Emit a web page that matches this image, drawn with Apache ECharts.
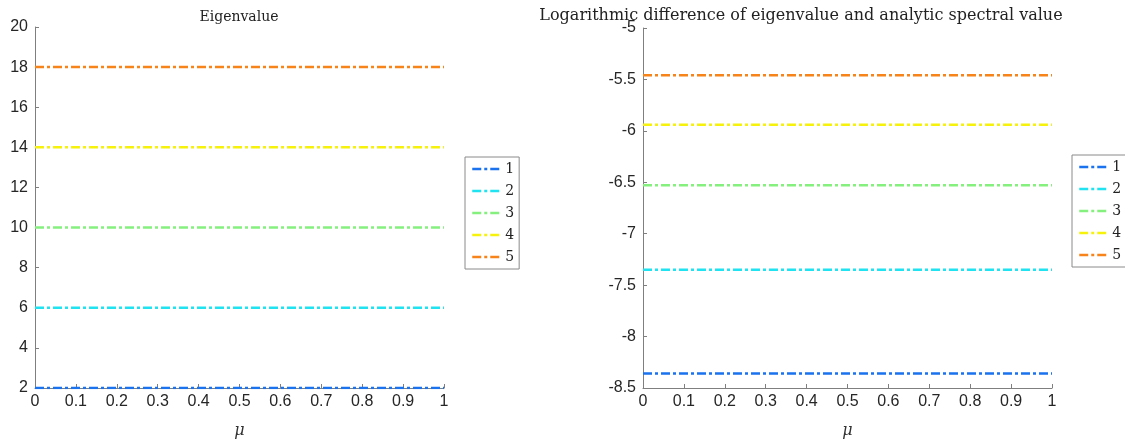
<!DOCTYPE html>
<html>
<head>
<meta charset="utf-8">
<script src="https://cdn.jsdelivr.net/npm/echarts@6/dist/echarts.min.js"></script>
<style>
    html, body { margin: 0; padding: 0; background: #fff; }
    #chart { width: 1125px; height: 444px; }
</style>
</head>
<body>
<div id="chart"></div>
<script>
// mu samples along the x axis
const mu = [0, 0.1, 0.2, 0.3, 0.4, 0.5, 0.6, 0.7, 0.8, 0.9, 1];

// left panel: eigenvalues
const eig1 = [2, 2, 2, 2, 2, 2, 2, 2, 2, 2, 2];
const eig2 = [6, 6, 6, 6, 6, 6, 6, 6, 6, 6, 6];
const eig3 = [10, 10, 10, 10, 10, 10, 10, 10, 10, 10, 10];
const eig4 = [14, 14, 14, 14, 14, 14, 14, 14, 14, 14, 14];
const eig5 = [18, 18, 18, 18, 18, 18, 18, 18, 18, 18, 18];

// right panel: log difference
const diff1 = [-8.36, -8.36, -8.36, -8.36, -8.36, -8.36, -8.36, -8.36, -8.36, -8.36, -8.36];
const diff2 = [-7.35, -7.35, -7.35, -7.35, -7.35, -7.35, -7.35, -7.35, -7.35, -7.35, -7.35];
const diff3 = [-6.53, -6.53, -6.53, -6.53, -6.53, -6.53, -6.53, -6.53, -6.53, -6.53, -6.53];
const diff4 = [-5.94, -5.94, -5.94, -5.94, -5.94, -5.94, -5.94, -5.94, -5.94, -5.94, -5.94];
const diff5 = [-5.46, -5.46, -5.46, -5.46, -5.46, -5.46, -5.46, -5.46, -5.46, -5.46, -5.46];

const names = ['1', '2', '3', '4', '5'];
const colors = ['#1a72ee', '#1fe3f0', '#86f07f', '#f6f20c', '#f7841a'];

const serif = '"DejaVu Serif", serif';
const sans = '"Liberation Sans"';
const axisColor = '#7f7f7f';
const dashDot = [9, 3, 3, 3];

const chart = echarts.init(document.getElementById('chart'), null, { renderer: 'canvas' });

function makeSeries(arrs, gridIdx) {
    return arrs.map((arr, i) => ({
        name: names[i],
        type: 'line',
        xAxisIndex: gridIdx,
        yAxisIndex: gridIdx,
        data: arr.map((v, j) => [mu[j], v]),
        showSymbol: false,
        symbol: 'none',
        silent: true,
        animation: false,
        lineStyle: { color: colors[i], width: 2.5, type: dashDot },
        itemStyle: { color: colors[i] }
    }));
}

function xAxis(gridIdx) {
    return {
        type: 'value',
        gridIndex: gridIdx,
        min: 0,
        max: 1,
        interval: 0.1,
        name: 'μ',
        nameLocation: 'middle',
        nameGap: 35,
        nameTextStyle: { fontFamily: serif, fontStyle: 'italic', fontSize: 16, color: '#333' },
        axisLine: { lineStyle: { color: axisColor, width: 1 } },
        axisTick: { inside: true, length: 4, lineStyle: { color: axisColor } },
        axisLabel: { fontFamily: sans, fontSize: 16, color: '#262626', margin: 6 },
        splitLine: { show: false }
    };
}

function yAxis(gridIdx, min, max, interval) {
    return {
        type: 'value',
        gridIndex: gridIdx,
        min: min,
        max: max,
        interval: interval,
        axisLine: { show: true, lineStyle: { color: axisColor, width: 1 } },
        axisTick: { show: true, inside: true, length: 4, lineStyle: { color: axisColor } },
        axisLabel: { fontFamily: sans, fontSize: 16, color: '#262626', margin: 7 },
        splitLine: { show: false }
    };
}

function legend(left, top) {
    return {
        data: names,
        orient: 'vertical',
        left: left,
        top: top,
        itemWidth: 30,
        itemHeight: 14,
        itemGap: 8,
        padding: [5, 5, 5, 6],
        borderColor: '#8a8a8a',
        borderWidth: 1,
        backgroundColor: '#fff',
        selectedMode: false,
        itemStyle: { opacity: 0 },
        lineStyle: { width: 2.5 },
        textStyle: { fontFamily: serif, fontSize: 14, lineHeight: 14, color: '#222', padding: [0, 0, 0, -2] }
    };
}

chart.setOption({
    backgroundColor: '#fff',
    animation: false,
    title: [
        {
            text: 'Eigenvalue',
            left: 234,
            top: 5,
            textAlign: 'center',
            textStyle: { fontFamily: serif, fontSize: 14, fontWeight: 'normal', color: '#222' }
        },
        {
            text: 'Logarithmic difference of eigenvalue and analytic spectral value',
            left: 796,
            top: 3,
            textAlign: 'center',
            textStyle: { fontFamily: serif, fontSize: 16, fontWeight: 'normal', color: '#222' }
        }
    ],
    grid: [
        { left: 35, top: 27, width: 409, height: 368 },
        { left: 643, top: 28, width: 409, height: 367 }
    ],
    xAxis: [xAxis(0), xAxis(1)],
    yAxis: [yAxis(0, 2, 20, 2), yAxis(1, -8.5, -5, 0.5)],
    legend: [legend(465, 157), legend(1072, 155)],
    series: [].concat(
        makeSeries([eig1, eig2, eig3, eig4, eig5], 0),
        makeSeries([diff1, diff2, diff3, diff4, diff5], 1)
    )
});
</script>
</body>
</html>
